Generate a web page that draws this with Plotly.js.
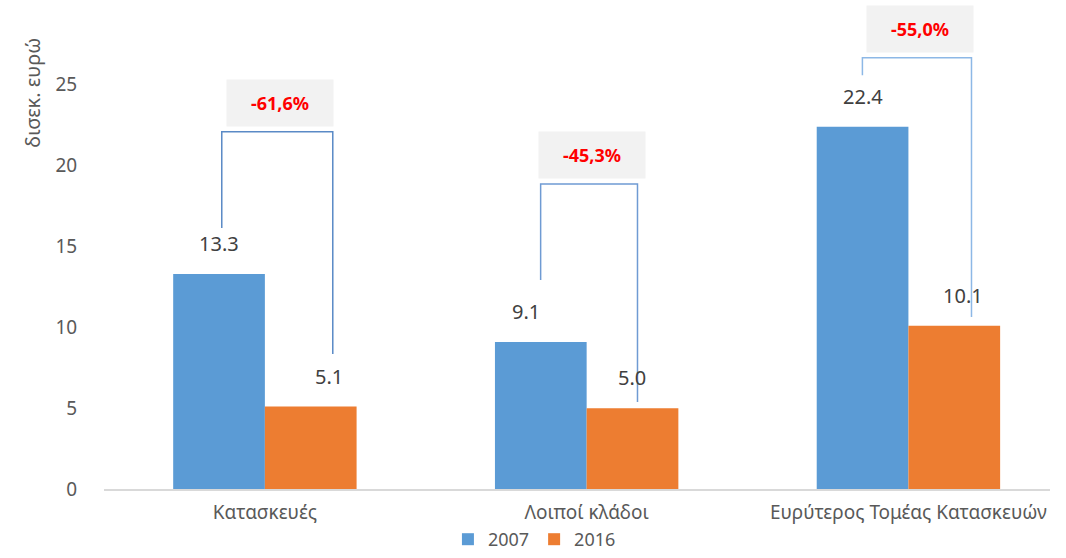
<!DOCTYPE html>
<html><head><meta charset="utf-8">
<script src="https://cdn.plot.ly/plotly-3.0.1.min.js"></script>
<style>html,body{margin:0;padding:0;background:#fff}#chart{width:1066px;height:558px}</style>
</head><body><div id="chart"></div>
<script>
const categories = ["Κατασκευές", "Λοιποί κλάδοι", "Ευρύτερος Τομέας Κατασκευών"];
const values2007 = [13.3, 9.1, 22.4];
const values2016 = [5.1, 5.0, 10.1];
const changeLabels = ["-61,6%", "-45,3%", "-55,0%"];
const seriesNames = ["2007", "2016"];
const yTitle = "δισεκ. ευρώ";

const FONT = "Noto Sans, Open Sans, sans-serif";
const blue = "#5b9bd5", orange = "#ed7d31";

const traces = [
  {type: "bar", name: seriesNames[0], x: categories, y: values2007, marker: {color: blue}, hoverinfo: "none"},
  {type: "bar", name: seriesNames[1], x: categories, y: values2016, marker: {color: orange}, hoverinfo: "none"}
];

// bracket geometry (offsets from category centre in category units, heights in data units)
const bracketTop = [22.1, 18.87, 26.67];
const bracketLeftBottom = [16.15, 12.93, 25.6];
const bracketRightBottom = [8.35, 5.38, 10.64];
const bracketLeftOff = [-0.134, -0.143, -0.143];
const bracketRightOff = [0.211, 0.158, 0.196];
const bracketColors = ["#5a8ac6", "#6f9bd3", "#8db8e6"];
const label2016Off = [0.2, 0.142, 0.17];
const label2007Off = [-0.142, -0.19, -0.142];

const shapes = [], annotations = [];
categories.forEach((c, i) => {
  const xl = i + bracketLeftOff[i], xr = i + bracketRightOff[i];
  const col = bracketColors[i];
  shapes.push({type: "path", xref: "x", yref: "y",
    path: `M ${xl} ${bracketLeftBottom[i]} L ${xl} ${bracketTop[i]} L ${xr} ${bracketTop[i]} L ${xr} ${bracketRightBottom[i]}`,
    line: {color: col, width: 1.5}});
  annotations.push({xref: "x", yref: "y", x: (xl + xr) / 2 + 0.01, y: bracketTop[i], yanchor: "bottom", yshift: 5,
    text: "<b>" + changeLabels[i] + "</b>", showarrow: false, bgcolor: "#f2f2f2",
    font: {family: FONT, size: 18, color: "#ff0000"}, borderpad: 11, width: 84});
  annotations.push({xref: "x", yref: "y", x: i + label2007Off[i], y: values2007[i], yanchor: "bottom", yshift: 15,
    text: values2007[i].toFixed(1), showarrow: false, font: {family: FONT, size: 20, color: "#404040"}});
  annotations.push({xref: "x", yref: "y", x: i + label2016Off[i], y: values2016[i], yanchor: "bottom", yshift: 15,
    text: values2016[i].toFixed(1), showarrow: false, font: {family: FONT, size: 20, color: "#404040"}});
});
annotations.push({xref: "paper", yref: "paper", x: -0.075, xanchor: "center", y: 0.84, yanchor: "middle", text: yTitle, textangle: -90,
  showarrow: false, font: {family: FONT, size: 20, color: "#595959"}});

const layout = {
  width: 1066, height: 558,
  margin: {l: 104, r: 16, t: 4, b: 0},
  paper_bgcolor: "#fff", plot_bgcolor: "#fff",
  barmode: "group", bargap: 0.43, bargroupgap: 0,
  font: {family: FONT, size: 19, color: "#595959"},
  xaxis: {type: "category", range: [-0.5, 2.44], showgrid: false, showline: true, linecolor: "#d9d9d9", linewidth: 1.5,
    ticks: "outside", ticklen: 6, tickcolor: "rgba(0,0,0,0)", zeroline: false, fixedrange: true, automargin: false,
    tickfont: {size: 19}},
  yaxis: {domain: [0.1245, 1], range: [0, 30], tickvals: [0, 5, 10, 15, 20, 25], showgrid: false, showline: false, zeroline: false,
    ticks: "outside", ticklen: 22, tickcolor: "rgba(0,0,0,0)", fixedrange: true, automargin: false},
  legend: {orientation: "h", x: 0.455, xanchor: "center", y: 0, yanchor: "bottom", font: {size: 18, color: "#595959"},
    itemwidth: 16, traceorder: "normal", tracegroupgap: 0},
  shapes: shapes, annotations: annotations, showlegend: true
};
Plotly.newPlot("chart", traces, layout, {displayModeBar: false, staticPlot: true});
</script></body></html>
